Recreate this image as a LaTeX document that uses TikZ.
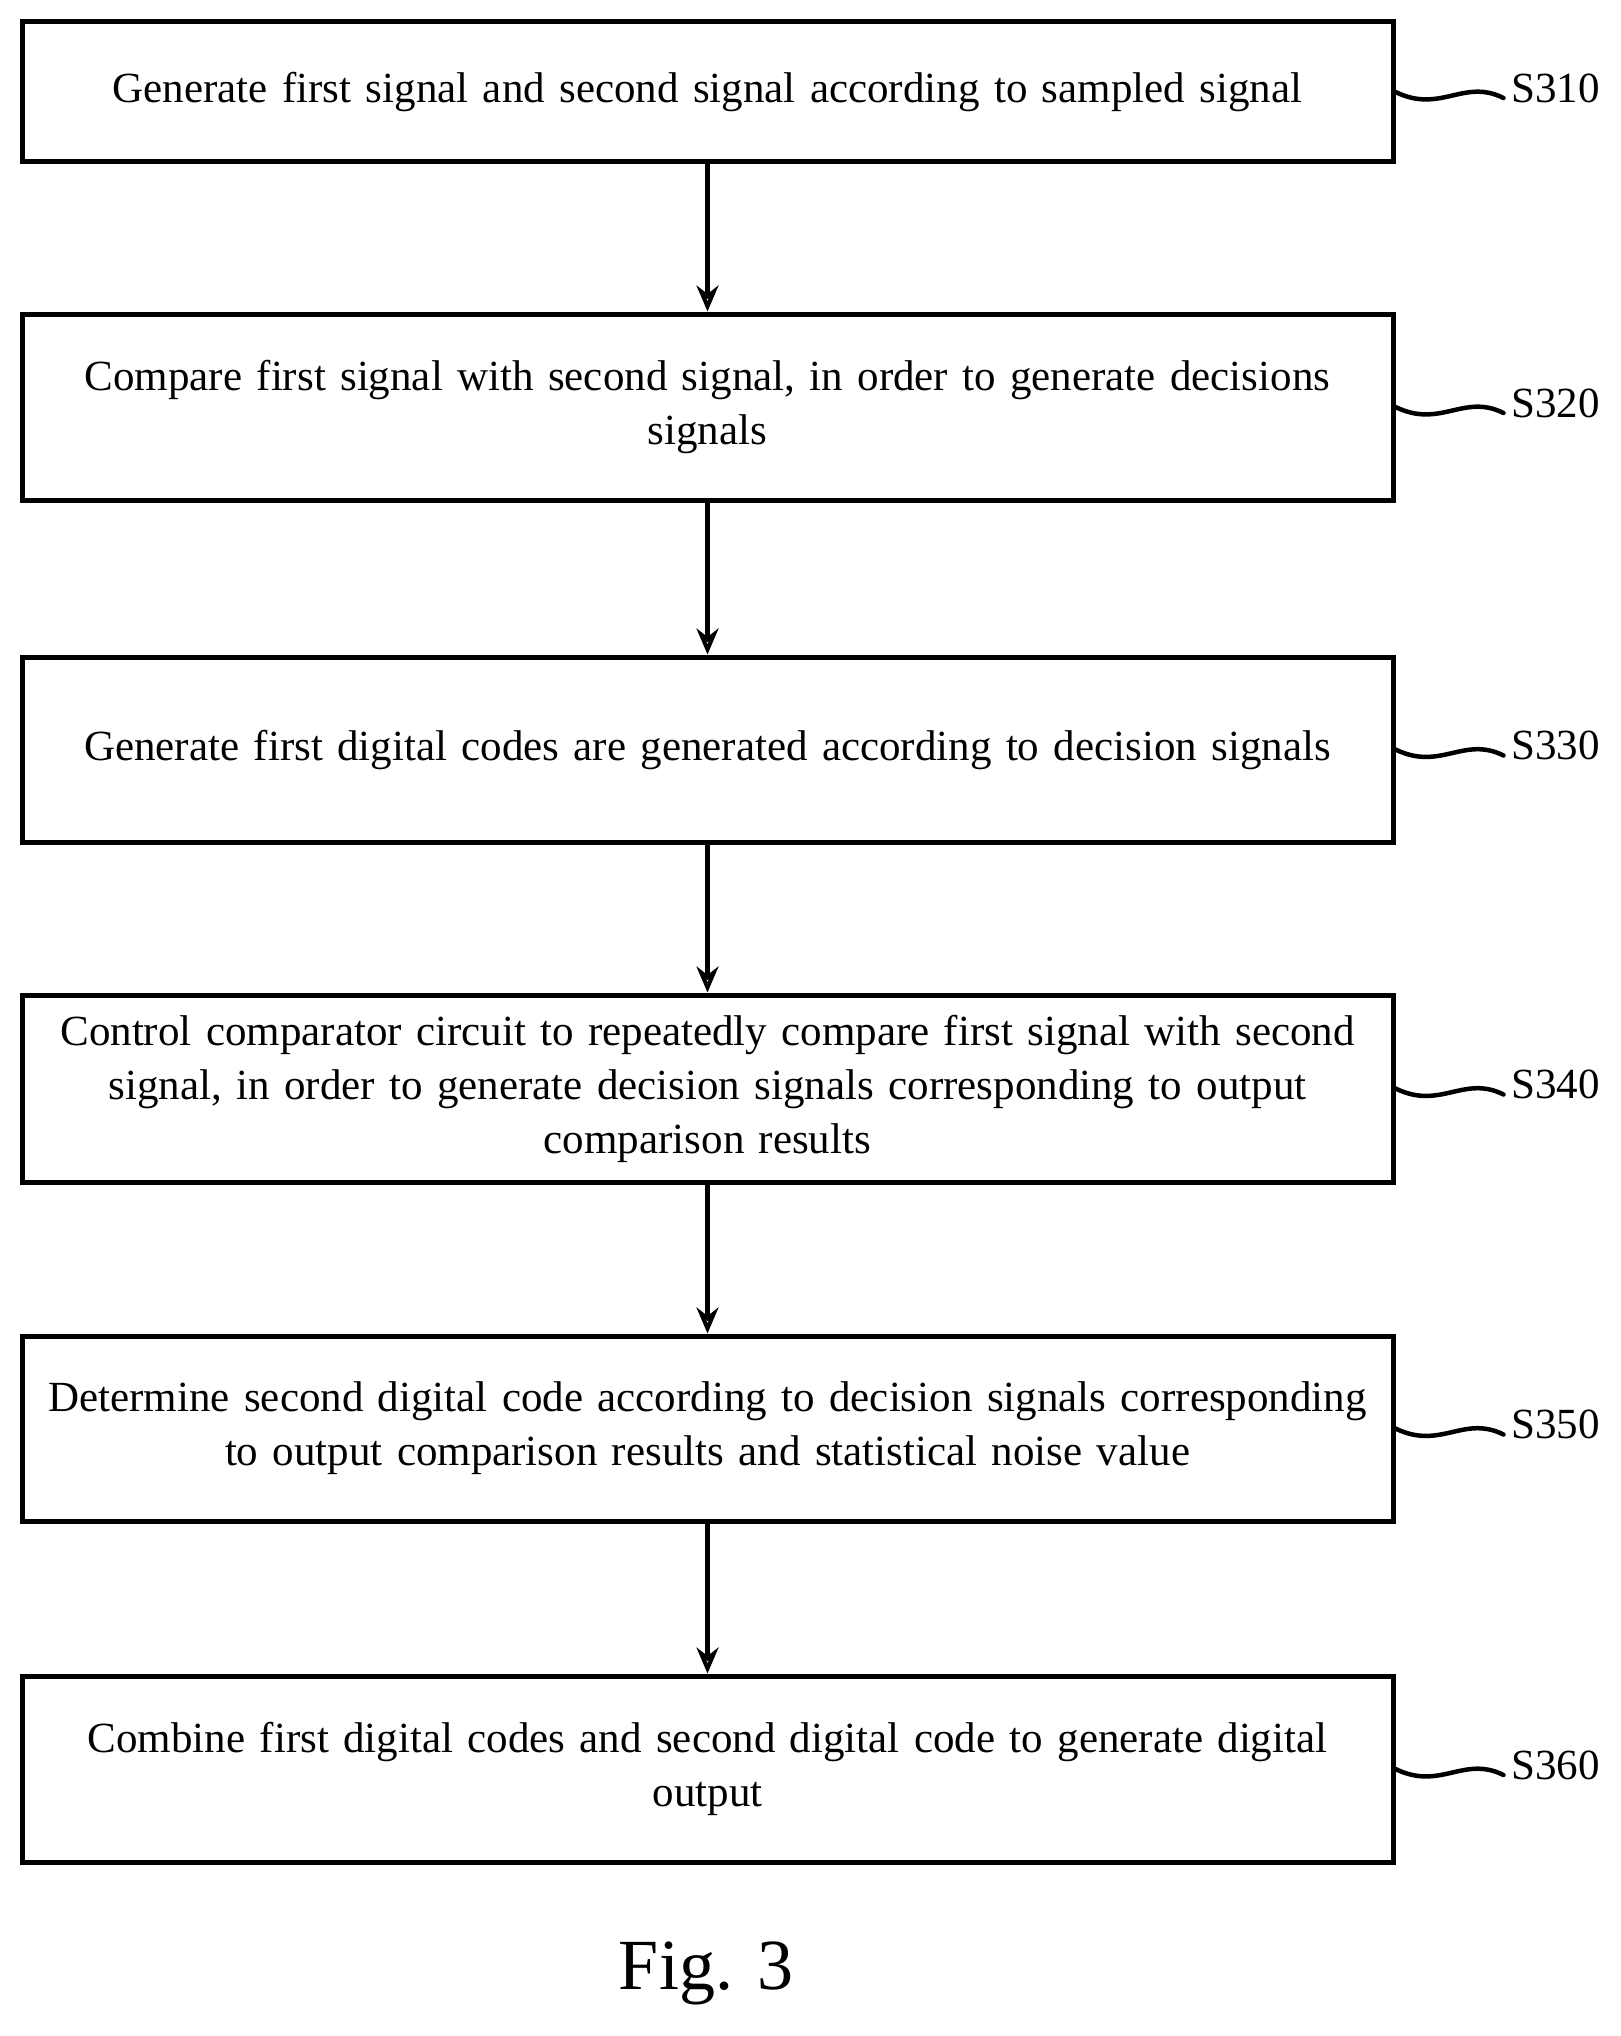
\documentclass[tikz,border=0pt]{standalone}
\usepackage{fontspec}
\setmainfont{Liberation Serif}
\usetikzlibrary{positioning,arrows.meta}
\begin{document}
\begin{tikzpicture}[x=1pt,y=-1pt,line width=5pt,
	stepbox/.style={draw,minimum width=1371pt,text width=1360pt,align=center,
		font=\fontsize{43}{54}\selectfont,inner sep=0pt},
	flow/.style={-{Stealth[open,length=26pt,width=22pt,line width=4pt]}},
	tag/.style={font=\fontsize{43}{50}\selectfont,anchor=west}]
	\useasboundingbox (0,0) rectangle (1620,2036);
	%% steps
	\node[stepbox,minimum height=140pt] (s310) at (707.5,92) {Generate first signal and second signal according to sampled signal};
	\node[stepbox,minimum height=186pt] (s320) at (707.5,407) {Compare first signal with second signal, in order to generate decisions\\ signals};
	\node[stepbox,minimum height=185pt] (s330) at (707.5,749.5) {Generate first digital codes are generated according to decision signals};
	\node[stepbox,minimum height=187pt] (s340) at (707.5,1088.5) {Control comparator circuit to repeatedly compare first signal with second\\ signal, in order to generate decision signals corresponding to output\\ comparison results};
	\node[stepbox,minimum height=185pt] (s350) at (707.5,1428.5) {Determine second digital code according to decision signals corresponding\\ to output comparison results and statistical noise value};
	\node[stepbox,minimum height=186pt] (s360) at (707.5,1769) {Combine first digital codes and second digital code to generate digital\\ output};
	% arrows between steps
	\foreach \a/\b in {s310/s320,s320/s330,s330/s340,s340/s350,s350/s360}
		\draw[flow] (\a.south) -- (\b.north);
	% step tags
	\foreach \s/\t in {s310/S310,s320/S320,s330/S330,s340/S340,s350/S350,s360/S360}{
		\coordinate (\s w) at ([xshift=108pt,yshift=-6pt]\s.east);
		\draw[line width=4.5pt,line cap=round] (\s.east) .. controls +(45,22) and +(-40,-20) .. (\s w);
		\node[tag] at ([xshift=2pt,yshift=10pt]\s w) {\t};
	}
	\node[font=\fontsize{72}{80}\selectfont] (fig) at (706,1973) {Fig. 3};
\end{tikzpicture}
\end{document}
